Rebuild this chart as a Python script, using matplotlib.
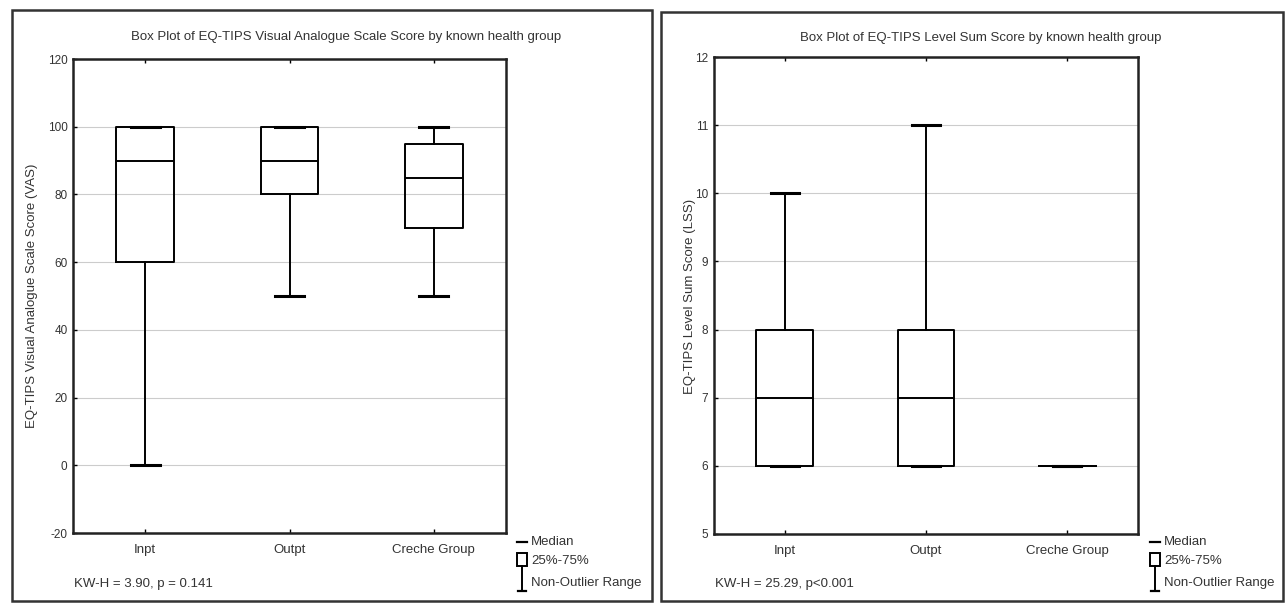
import matplotlib.pyplot as plt
from matplotlib.patches import Rectangle
from matplotlib.lines import Line2D

plt.rcParams['font.family'] = ['Liberation Sans', 'DejaVu Sans']
plt.rcParams['axes.unicode_minus'] = False

groups = ['Inpt', 'Outpt', 'Creche Group']

# VAS score (left panel)
vas_low = [0, 50, 50]
vas_q1 = [60, 80, 70]
vas_med = [90, 90, 85]
vas_q3 = [100, 100, 95]
vas_high = [100, 100, 100]

# LSS score (right panel)
lss_low = [6, 6, 6]
lss_q1 = [6, 6, 6]
lss_med = [7, 7, 6]
lss_q3 = [8, 8, 6]
lss_high = [10, 11, 6]

vas_ticks = [-20, 0, 20, 40, 60, 80, 100, 120]
lss_ticks = [5, 6, 7, 8, 9, 10, 11, 12]

W, H = 1285, 603
txt = '#333333'
fs = 9.5


def stats(low, q1, med, q3, high):
    out = []
    for i in range(len(low)):
        out.append(dict(whislo=low[i], q1=q1[i], med=med[i], q3=q3[i],
                        whishi=high[i], fliers=[], label=groups[i]))
    return out


def panel(rect, data, ticks, title, ylabel, kw, frame, title_xy, ylab_xy, leg_x):
    ax = fig.add_axes(rect)
    ax.bxp(stats(*data), positions=[1, 2, 3], widths=0.4, showfliers=False,
           boxprops=dict(color='black', linewidth=1.4),
           medianprops=dict(color='black', linewidth=1.4),
           whiskerprops=dict(color='black', linewidth=1.4),
           capprops=dict(color='black', linewidth=2.2))
    ax.set_xlim(0.5, 3.5)
    ax.set_ylim(ticks[0], ticks[-1])
    ax.set_yticks(ticks)
    ax.set_xticks([1, 2, 3])
    ax.set_xticklabels(groups)
    ax.grid(axis='y', color='#cccccc', linewidth=0.8)
    ax.set_axisbelow(True)
    ax.tick_params(direction='in', length=3, width=1, top=True, labelsize=fs,
                   labelcolor=txt, pad=8)
    ax.tick_params(axis='y', pad=4, labelsize=8.5)
    for s in ax.spines.values():
        s.set_linewidth(1.8)
        s.set_color('#222222')

    fig.text(title_xy[0] / W, 1 - title_xy[1] / H, title, ha='center',
             va='center', fontsize=fs, color=txt)
    fig.text(ylab_xy[0] / W, 1 - ylab_xy[1] / H, ylabel, ha='center',
             va='center', rotation=90, fontsize=fs, color=txt)
    fig.text((rect[0] * W + 1) / W, 1 - 584 / H, kw, ha='left', va='center',
             fontsize=fs, color=txt)

    # panel frame
    x0, y0, x1, y1 = frame
    fig.add_artist(Rectangle((x0 / W, 1 - y1 / H), (x1 - x0) / W, (y1 - y0) / H,
                             transform=fig.transFigure, fill=False,
                             edgecolor='#333333', linewidth=1.8))

    # legend symbols
    lx = leg_x
    tf = fig.transFigure
    fig.add_artist(Line2D([lx / W, (lx + 10) / W], [1 - 542 / H] * 2,
                          transform=tf, color='black', linewidth=1.6))
    fig.add_artist(Rectangle((lx / W, 1 - 566 / H), 10 / W, 13 / H,
                             transform=tf, fill=False, edgecolor='black',
                             linewidth=1.4))
    fig.add_artist(Line2D([(lx + 5) / W] * 2, [1 - 566 / H, 1 - 591 / H],
                          transform=tf, color='black', linewidth=1.4))
    fig.add_artist(Line2D([(lx + 1) / W, (lx + 9) / W], [1 - 591 / H] * 2,
                          transform=tf, color='black', linewidth=1.6))
    fig.text((lx + 14) / W, 1 - 542 / H, 'Median', va='center', fontsize=fs, color=txt)
    fig.text((lx + 14) / W, 1 - 561 / H, '25%-75%', va='center', fontsize=fs, color=txt)
    fig.text((lx + 14) / W, 1 - 583 / H, 'Non-Outlier Range', va='center',
             fontsize=fs, color=txt)
    return ax


fig = plt.figure(figsize=(W / 100, H / 100), dpi=100)

panel([73 / W, (H - 533) / H, 433 / W, 474 / H],
      (vas_low, vas_q1, vas_med, vas_q3, vas_high), vas_ticks,
      'Box Plot of EQ-TIPS Visual Analogue Scale Score by known health group',
      'EQ-TIPS Visual Analogue Scale Score (VAS)',
      'KW-H = 3.90, p = 0.141',
      (12, 10, 652, 601), (346, 37), (32, 296), 517)

panel([714 / W, (H - 534) / H, 424 / W, 477 / H],
      (lss_low, lss_q1, lss_med, lss_q3, lss_high), lss_ticks,
      'Box Plot of EQ-TIPS Level Sum Score by known health group',
      'EQ-TIPS Level Sum Score (LSS)',
      'KW-H = 25.29, p<0.001',
      (661, 12, 1283, 601), (981, 38), (690, 296), 1150)

fig.savefig('out.png', dpi=100)
